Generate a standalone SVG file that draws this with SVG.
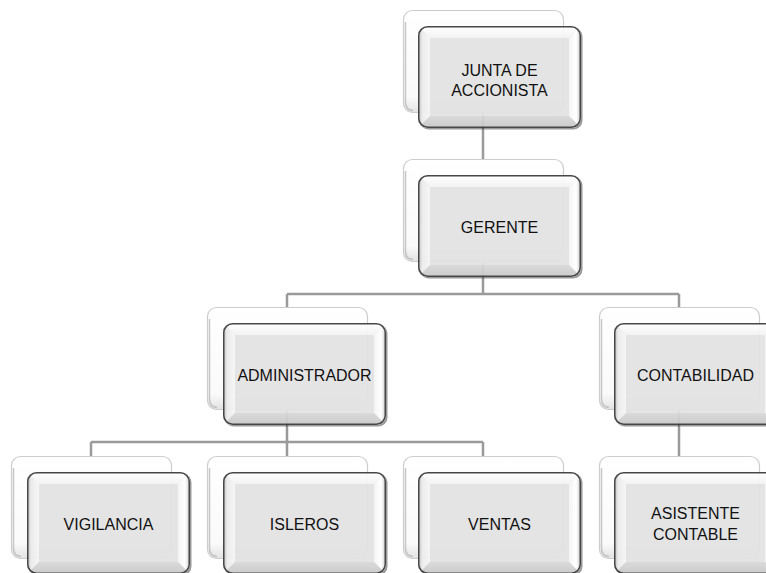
<svg xmlns="http://www.w3.org/2000/svg" xmlns:xlink="http://www.w3.org/1999/xlink" width="766" height="573" viewBox="0 0 766 573">
<style>
.conn{fill:none;stroke:#9a9a9a;stroke-width:2.5}
.lbl{font-family:"Liberation Sans",Arial,sans-serif;font-size:16px;fill:#111;text-anchor:middle}
</style>
<defs>
<linearGradient id="backG" x1="0" y1="0" x2="0" y2="1">
<stop offset="0" stop-color="#ffffff"/><stop offset="0.85" stop-color="#fafafa"/><stop offset="1" stop-color="#e2e2e2"/>
</linearGradient>
<linearGradient id="topB" x1="0" y1="0" x2="0" y2="1">
<stop offset="0" stop-color="#ffffff"/><stop offset="1" stop-color="#f3f3f3"/>
</linearGradient>
<linearGradient id="leftB" x1="0" y1="0" x2="1" y2="0">
<stop offset="0" stop-color="#b5b5b5"/><stop offset="0.35" stop-color="#ececec"/><stop offset="1" stop-color="#f6f6f6"/>
</linearGradient>
<linearGradient id="rightB" x1="0" y1="0" x2="1" y2="0">
<stop offset="0" stop-color="#f4f4f4"/><stop offset="0.6" stop-color="#ffffff"/><stop offset="1" stop-color="#c8c8c8"/>
</linearGradient>
<linearGradient id="botB" x1="0" y1="0" x2="0" y2="1">
<stop offset="0" stop-color="#d8d8d8"/><stop offset="1" stop-color="#c9c9c9"/>
</linearGradient>
<clipPath id="frontClip"><rect x="0" y="0" width="163" height="102" rx="9"/></clipPath>
<g id="back">
<rect x="0.5" y="0.5" width="160" height="102" rx="9" fill="url(#backG)" stroke="#cdcdcd" stroke-width="1.2"/>
<path d="M2.5 12 V92 Q2.5 100 10 100.5" fill="none" stroke="#b8b8b8" stroke-width="1.5" opacity="0.8"/>
</g>
<g id="front" opacity="0.94">
<rect x="1.5" y="1.5" width="163" height="102" rx="9" fill="#3a3a3a" opacity="0.55"/>
<g clip-path="url(#frontClip)">
<rect x="0" y="0" width="163" height="102" fill="#e4e4e4"/>
<polygon points="0,0 163,0 151,12 12,12" fill="url(#topB)"/>
<polygon points="0,0 12,12 12,90 0,102" fill="url(#leftB)"/>
<polygon points="163,0 163,102 151,90 151,12" fill="url(#rightB)"/>
<polygon points="0,102 12,90 151,90 163,102" fill="url(#botB)"/>
<rect x="12" y="12" width="139" height="78" fill="#e3e3e3"/>
</g>
<rect x="0.75" y="0.75" width="161.5" height="100.5" rx="9" fill="none" stroke="#3c3c3c" stroke-width="1.5"/>
</g>
</defs>
<g id="connectors">
<path class="conn" d="M483 110 V159"/>
<path class="conn" d="M483 259 V294 M287 294 H679 M287 294 V307 M679 294 V307"/>
<path class="conn" d="M287 407 V442 M91 442 H483 M91 442 V456 M287 442 V456 M483 442 V456"/>
<path class="conn" d="M679 407 V456"/>
</g>
<g id="junta">
<use xlink:href="#back" x="403" y="10"/>
<use xlink:href="#front" x="418" y="26"/>
<text class="lbl" x="499.5" y="75.5">JUNTA DE</text>
<text class="lbl" x="499.5" y="96">ACCIONISTA</text>
</g>
<g id="gerente">
<use xlink:href="#back" x="403" y="159"/>
<use xlink:href="#front" x="418" y="175"/>
<text class="lbl" x="499.5" y="233">GERENTE</text>
</g>
<g id="administrador">
<use xlink:href="#back" x="207" y="307"/>
<use xlink:href="#front" x="223" y="323"/>
<text class="lbl" x="304.5" y="381">ADMINISTRADOR</text>
</g>
<g id="contabilidad">
<use xlink:href="#back" x="599" y="307"/>
<use xlink:href="#front" x="614" y="323"/>
<text class="lbl" x="695.5" y="381">CONTABILIDAD</text>
</g>
<g id="vigilancia">
<use xlink:href="#back" x="11" y="456"/>
<use xlink:href="#front" x="27" y="472"/>
<text class="lbl" x="108.5" y="530">VIGILANCIA</text>
</g>
<g id="isleros">
<use xlink:href="#back" x="207" y="456"/>
<use xlink:href="#front" x="223" y="472"/>
<text class="lbl" x="304.5" y="530">ISLEROS</text>
</g>
<g id="ventas">
<use xlink:href="#back" x="403" y="456"/>
<use xlink:href="#front" x="418" y="472"/>
<text class="lbl" x="499.5" y="530">VENTAS</text>
</g>
<g id="asistente">
<use xlink:href="#back" x="599" y="456"/>
<use xlink:href="#front" x="614" y="472"/>
<text class="lbl" x="695.5" y="519">ASISTENTE</text>
<text class="lbl" x="695.5" y="539.5">CONTABLE</text>
</g>
</svg>
